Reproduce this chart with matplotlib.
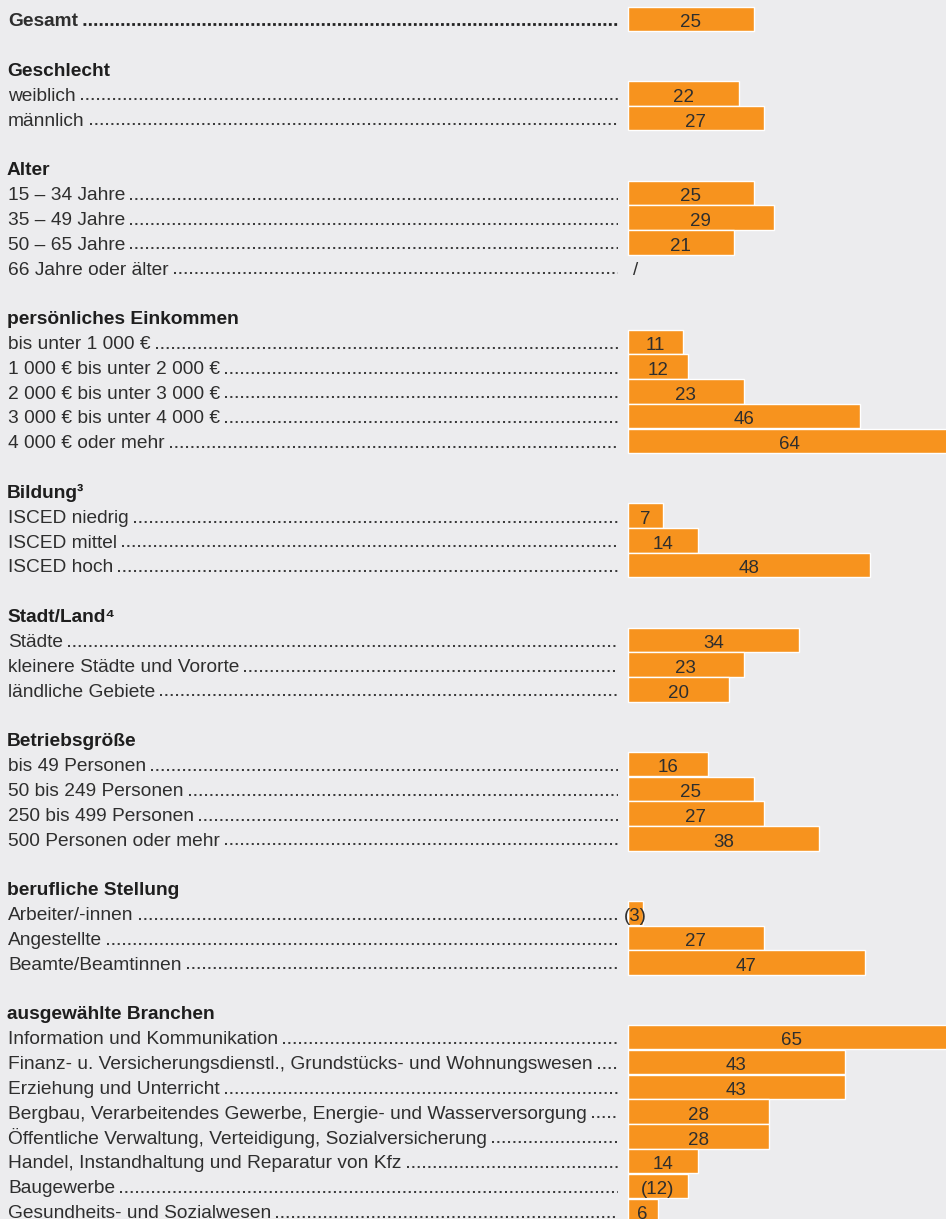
import matplotlib
matplotlib.use("Agg")
import matplotlib.pyplot as plt

plt.rcParams['font.family'] = ['Liberation Sans', 'DejaVu Sans']
plt.rcParams['lines.scale_dashes'] = False

# --- Daten -------------------------------------------------------------
gesamt_label = "Gesamt"
gesamt_wert = 25

titel = ["Geschlecht", "Alter", "persönliches Einkommen", "Bildung³",
         "Stadt/Land⁴", "Betriebsgröße", "berufliche Stellung",
         "ausgewählte Branchen"]

geschlecht = ["weiblich", "männlich"]
geschlecht_werte = [22, 27]

alter = ["15 – 34 Jahre", "35 – 49 Jahre", "50 – 65 Jahre", "66 Jahre oder älter"]
alter_werte = [25, 29, 21, None]

einkommen = ["bis unter 1 000 €", "1 000 € bis unter 2 000 €",
             "2 000 € bis unter 3 000 €", "3 000 € bis unter 4 000 €",
             "4 000 € oder mehr"]
einkommen_werte = [11, 12, 23, 46, 64]

bildung = ["ISCED niedrig", "ISCED mittel", "ISCED hoch"]
bildung_werte = [7, 14, 48]

stadt_land = ["Städte", "kleinere Städte und Vororte", "ländliche Gebiete"]
stadt_land_werte = [34, 23, 20]

betrieb = ["bis 49 Personen", "50 bis 249 Personen", "250 bis 499 Personen",
           "500 Personen oder mehr"]
betrieb_werte = [16, 25, 27, 38]

stellung = ["Arbeiter/-innen", "Angestellte", "Beamte/Beamtinnen"]
stellung_werte = [3, 27, 47]

branchen = ["Information und Kommunikation",
            "Finanz- u. Versicherungsdienstl., Grundstücks- und Wohnungswesen",
            "Erziehung und Unterricht",
            "Bergbau, Verarbeitendes Gewerbe, Energie- und Wasserversorgung",
            "Öffentliche Verwaltung, Verteidigung, Sozialversicherung",
            "Handel, Instandhaltung und Reparatur von Kfz",
            "Baugewerbe",
            "Gesundheits- und Sozialwesen"]
branchen_werte = [65, 43, 43, 28, 28, 14, 12, 6]

# Werte in Klammern (eingeschränkte Aussagekraft)
geklammert = ["Arbeiter/-innen", "Baugewerbe"]

gruppen_labels = [geschlecht, alter, einkommen, bildung, stadt_land,
                  betrieb, stellung, branchen]
gruppen_werte = [geschlecht_werte, alter_werte, einkommen_werte, bildung_werte,
                 stadt_land_werte, betrieb_werte, stellung_werte, branchen_werte]

# --- Layout ------------------------------------------------------------
BG = '#ececee'
ORANGE = '#f7931e'
TEXT = '#2e2e2e'
W, H = 946, 1219
X0 = 627.5      # Pixel, an dem die Balken beginnen
PX = 5.05       # Pixel pro Prozentpunkt
Y0 = 19         # Mitte der ersten Zeile
ROW = 24.83     # Zeilenabstand in Pixel
DOT_END = 618   # Ende der Punktlinien
FS = 13.8


def px2x(p):
    return (p - X0) / PX


fig = plt.figure(figsize=(W / 100, H / 100), dpi=100, facecolor=BG)
ax = fig.add_axes([0, 0, 1, 1])
ax.set_facecolor(BG)
ax.set_xlim(px2x(0), px2x(W))
ax.set_ylim((H - Y0) / ROW, -Y0 / ROW)
ax.axis('off')

leader = []  # (text, zeile, fett)


def balken(zeile, wert, label, fett=False):
    t = ax.text(px2x(8), zeile + 0.29, label, ha='left', va='baseline',
                fontsize=FS, color=TEXT, fontweight='bold' if fett else 'normal')
    leader.append((t, zeile, fett))
    if wert is None:
        ax.text(px2x(636), zeile + 0.31, "/", ha='center', va='baseline',
                fontsize=13.5, color=TEXT)
        return
    ax.barh(zeile, wert, height=0.98, left=0, color=ORANGE,
            edgecolor='white', linewidth=1.0)
    s = f"({wert})" if label in geklammert else str(wert)
    ax.text(wert / 2, zeile + 0.33, s, ha='center', va='baseline',
            fontsize=13.5, color=TEXT)


balken(0, gesamt_wert, gesamt_label, fett=True)

zeile = 2
for kopf, labels, werte in zip(titel, gruppen_labels, gruppen_werte):
    ax.text(px2x(7), zeile + 0.29, kopf, ha='left', va='baseline',
            fontsize=FS, color='#1e1e1e', fontweight='bold')
    for i, (lab, w) in enumerate(zip(labels, werte)):
        balken(zeile + 1 + i, w, lab)
    zeile += len(labels) + 2

# Punktlinien hinter den Beschriftungen
fig.canvas.draw()
renderer = fig.canvas.get_renderer()
for t, z, fett in leader:
    bb = t.get_window_extent(renderer)
    start = bb.x1 + 5
    if fett:
        ax.plot([px2x(start), px2x(DOT_END)], [z + 0.22, z + 0.22], color='#222222',
                lw=2.0, linestyle=(0, (2.0, 1.9)), dash_capstyle='butt')
    else:
        ax.plot([px2x(start), px2x(DOT_END)], [z + 0.24, z + 0.24], color='#3a3a3a',
                lw=1.45, linestyle=(0, (1.45, 2.4)), dash_capstyle='butt')

fig.savefig("out.png", dpi=100, facecolor=BG)
